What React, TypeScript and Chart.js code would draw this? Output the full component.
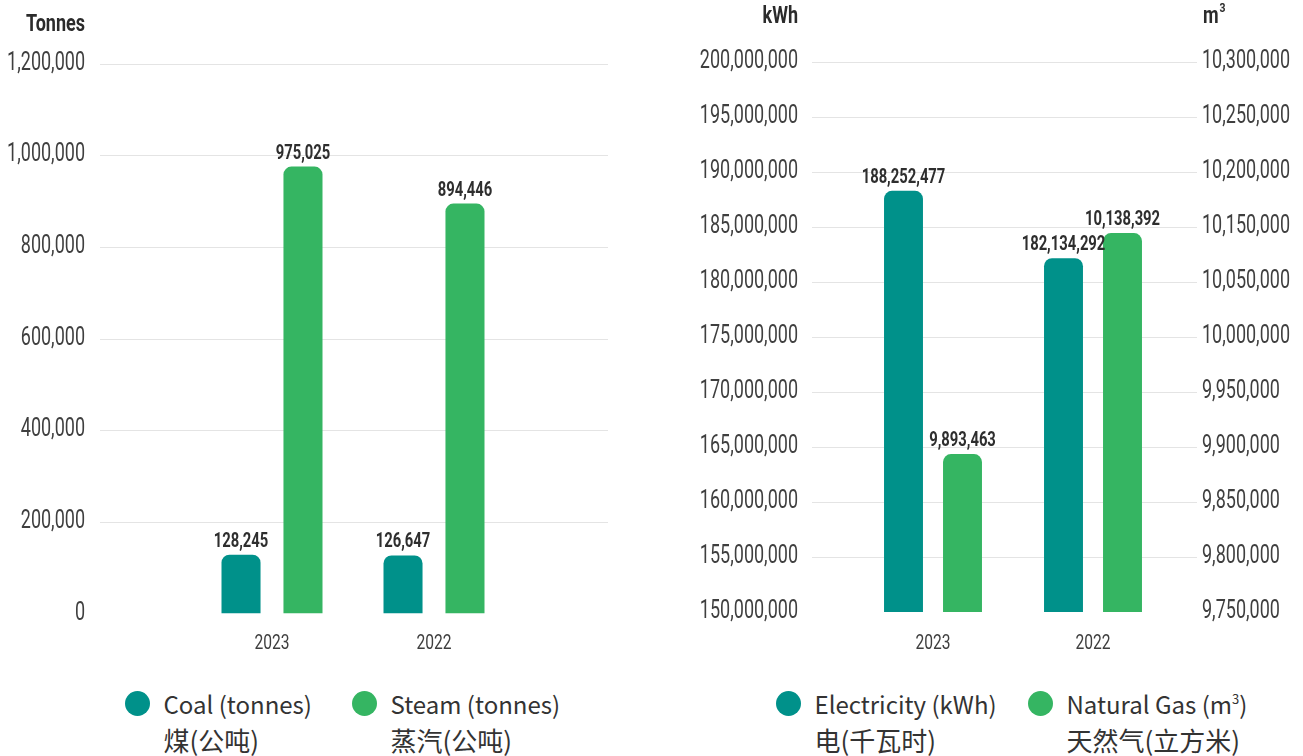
import React, { useEffect, useRef } from "react";
import { Chart, registerables } from "chart.js";

Chart.register(...registerables);

// ---------- data ----------
const years = ["2023", "2022"];
const coalTonnes = [128245, 126647];
const steamTonnes = [975025, 894446];
const electricityKwh = [188252477, 182134292];
const naturalGasM3 = [9893463, 10138392];

const tonnesTicks = [0, 200000, 400000, 600000, 800000, 1000000, 1200000];
const kwhTicks = [
  150000000, 155000000, 160000000, 165000000, 170000000, 175000000,
  180000000, 185000000, 190000000, 195000000, 200000000,
];
// right-hand axis labels exactly as printed (evenly spaced on the chart)
const gasTickLabels = [
  "9,750,000", "9,800,000", "9,850,000", "9,900,000", "9,950,000",
  "10,000,000", "10,050,000", "10,150,000", "10,200,000", "10,250,000",
  "10,300,000",
];

const TEAL = "#00918a";
const GREEN = "#35b562";
const TEXT = "#3f3f3f";
const GRID = "#e4e4e4";

const fmt = (v: number) => v.toLocaleString("en-US");
const gasTickValues = gasTickLabels.map((s) => Number(s.replace(/,/g, "")));
// position of a value on the evenly spaced printed right axis (in tick-index units)
const gasAxisPosition = (v: number) => {
  for (let i = 0; i < gasTickValues.length - 1; i++) {
    const a = gasTickValues[i];
    const b = gasTickValues[i + 1];
    if (v <= b || i === gasTickValues.length - 2) return i + (v - a) / (b - a);
  }
  return 0;
};

function condText(
  ctx: CanvasRenderingContext2D,
  text: string,
  x: number,
  y: number,
  align: "left" | "right" | "center",
  font: string,
  color: string,
  sx: number,
  baseline: CanvasTextBaseline = "middle"
) {
  ctx.save();
  ctx.font = font;
  ctx.fillStyle = color;
  ctx.textBaseline = baseline;
  ctx.textAlign = "left";
  const w = ctx.measureText(text).width * sx;
  const left = align === "right" ? x - w : align === "center" ? x - w / 2 : x;
  ctx.translate(left, y);
  ctx.scale(sx, 1);
  ctx.fillText(text, 0, 0);
  ctx.restore();
  return w;
}

type AxisConf = { id: string; values: number[]; labels: string[]; x: number; align: "left" | "right" };
type TitleConf = { text: string; sup?: string; x: number; y: number; align: "left" | "right" };
type PanelConf = { gridLeft: number; gridRight: number; axes: AxisConf[]; titles: TitleConf[]; xLabelY: number };

const TICK_FONT = "400 25px Roboto";
const VALUE_FONT = "bold 20px Roboto";
const TITLE_FONT = "bold 24px Roboto";
const XLABEL_FONT = "400 20px Roboto";

function makePanelPlugin(conf: PanelConf) {
  return {
    id: "panel",
    beforeDatasetsDraw(chart: any) {
      const ctx = chart.ctx as CanvasRenderingContext2D;
      const main = conf.axes[0];
      const scale = chart.scales[main.id];
      ctx.save();
      ctx.strokeStyle = GRID;
      ctx.lineWidth = 1;
      main.values.forEach((v, i) => {
        if (i === 0) return;
        const y = Math.round(scale.getPixelForValue(v)) + 0.5;
        ctx.beginPath();
        ctx.moveTo(conf.gridLeft, y);
        ctx.lineTo(conf.gridRight, y);
        ctx.stroke();
      });
      ctx.restore();
    },
    afterDatasetsDraw(chart: any) {
      const ctx = chart.ctx as CanvasRenderingContext2D;
      conf.axes.forEach((a) => {
        const scale = chart.scales[a.id];
        a.values.forEach((v, i) => {
          const y = scale.getPixelForValue(v);
          condText(ctx, a.labels[i], a.x, y, a.align, TICK_FONT, TEXT, 0.72);
        });
      });
      conf.titles.forEach((t) => {
        const w = condText(ctx, t.text, t.x, t.y, t.align, TITLE_FONT, "#2b2b2b", 0.75);
        if (t.sup) {
          condText(ctx, t.sup, t.x + w + 1, t.y - 8, "left", "bold 13px Roboto", "#2b2b2b", 0.8);
        }
      });
      const xs = chart.scales.x;
      chart.data.labels.forEach((lab: string, i: number) => {
        condText(ctx, lab, xs.getPixelForValue(i), conf.xLabelY, "center", XLABEL_FONT, TEXT, 0.78);
      });
      chart.data.datasets.forEach((ds: any, di: number) => {
        const meta = chart.getDatasetMeta(di);
        const shown: number[] = ds.rawValues || ds.data;
        meta.data.forEach((el: any, i: number) => {
          condText(ctx, fmt(shown[i]), el.x, el.y - 8, "center", VALUE_FONT, "#2e2e2e", 0.74, "alphabetic");
        });
      });
    },
  };
}

function leftConfig(): any {
  const conf: PanelConf = {
    gridLeft: 100,
    gridRight: 608,
    axes: [{ id: "y", values: tonnesTicks, labels: tonnesTicks.map(fmt), x: 85, align: "right" }],
    titles: [{ text: "Tonnes", x: 85, y: 25, align: "right" }],
    xLabelY: 643.5,
  };
  return {
    type: "bar",
    data: {
      labels: years,
      datasets: [
        { label: "Coal (tonnes)", data: coalTonnes, backgroundColor: TEAL, borderRadius: 8, barPercentage: 0.63, categoryPercentage: 0.765 },
        { label: "Steam (tonnes)", data: steamTonnes, backgroundColor: GREEN, borderRadius: 8, barPercentage: 0.63, categoryPercentage: 0.765 },
      ],
    },
    options: {
      responsive: false,
      animation: false,
      layout: { padding: { left: 191, right: 135, top: 63.5, bottom: 56.5 } },
      scales: {
        x: { display: false },
        y: { display: false, min: tonnesTicks[0], max: tonnesTicks[tonnesTicks.length - 1] },
      },
      plugins: { legend: { display: false }, tooltip: { enabled: false } },
    },
    plugins: [makePanelPlugin(conf)],
  };
}

function rightConfig(): any {
  const gasIdx = gasTickLabels.map((_, i) => i);
  const conf: PanelConf = {
    gridLeft: 162,
    gridRight: 547,
    axes: [
      { id: "y", values: kwhTicks, labels: kwhTicks.map(fmt), x: 148, align: "right" },
      { id: "y2", values: gasIdx, labels: gasTickLabels, x: 552, align: "left" },
    ],
    titles: [
      { text: "kWh", x: 148, y: 17, align: "right" },
      { text: "m", sup: "3", x: 553, y: 17, align: "left" },
    ],
    xLabelY: 643.5,
  };
  return {
    type: "bar",
    data: {
      labels: years,
      datasets: [
        { label: "Electricity (kWh)", data: electricityKwh, yAxisID: "y", backgroundColor: TEAL, borderRadius: 8, barPercentage: 0.66, categoryPercentage: 0.7375 },
        {
          label: "Natural Gas (m3)",
          data: naturalGasM3.map(gasAxisPosition),
          rawValues: naturalGasM3,
          yAxisID: "y2",
          backgroundColor: GREEN,
          borderRadius: 8,
          barPercentage: 0.66,
          categoryPercentage: 0.7375,
        },
      ],
    },
    options: {
      responsive: false,
      animation: false,
      layout: { padding: { left: 203, right: 130, top: 61.5, bottom: 58 } },
      scales: {
        x: { display: false },
        y: { display: false, min: kwhTicks[0], max: kwhTicks[kwhTicks.length - 1] },
        y2: { display: false, position: "right", min: 0, max: gasTickLabels.length - 1 },
      },
      plugins: { legend: { display: false }, tooltip: { enabled: false } },
    },
    plugins: [makePanelPlugin(conf)],
  };
}

function Panel({ make, left, width }: { make: () => any; left: number; width: number }) {
  const ref = useRef<HTMLCanvasElement | null>(null);
  useEffect(() => {
    const chart = new Chart(ref.current as HTMLCanvasElement, make());
    return () => chart.destroy();
  }, []);
  return (
    <canvas
      ref={ref}
      width={width}
      height={670}
      style={{ position: "absolute", left, top: 0, width, height: 670 }}
    />
  );
}

function LegendItem({ x, color, line1, line2 }: { x: number; color: string; line1: React.ReactNode; line2: string }) {
  return (
    <div style={{ position: "absolute", left: x - 12.5, top: 686 }}>
      <div
        style={{
          position: "absolute",
          left: 0,
          top: 4.5,
          width: 25,
          height: 25,
          borderRadius: "50%",
          background: color,
        }}
      />
      <div
        style={{
          position: "absolute",
          left: 39,
          top: 0,
          whiteSpace: "nowrap",
          fontFamily: "'Noto Sans CJK SC', 'Noto Sans', sans-serif",
          fontSize: 24,
          lineHeight: "36px",
          color: "#333",
        }}
      >
        <div>{line1}</div>
        <div style={{ fontSize: 26 }}>{line2}</div>
      </div>
    </div>
  );
}

export default function App() {
  return (
    <div style={{ position: "absolute", left: 0, top: 0, width: 1303, height: 756, background: "#fff", overflow: "hidden" }}>
      <Panel make={leftConfig} left={0} width={650} />
      <Panel make={rightConfig} left={650} width={653} />
      <LegendItem x={137} color={TEAL} line1="Coal (tonnes)" line2="煤(公吨)" />
      <LegendItem x={364} color={GREEN} line1="Steam (tonnes)" line2="蒸汽(公吨)" />
      <LegendItem x={788} color={TEAL} line1="Electricity (kWh)" line2="电(千瓦时)" />
      <LegendItem
        x={1040}
        color={GREEN}
        line1={
          <span>
            Natural Gas (m<sup style={{ fontSize: 13, verticalAlign: "10px", lineHeight: 0 }}>3</sup>)
          </span>
        }
        line2="天然气(立方米)"
      />
    </div>
  );
}
